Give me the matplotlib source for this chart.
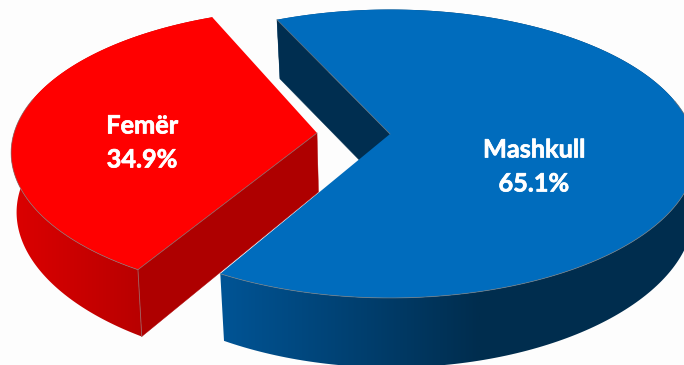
#!/usr/bin/env python3

import numpy as np
import matplotlib
matplotlib.use("Agg")
import matplotlib.pyplot as plt
import matplotlib.patheffects as pe
from matplotlib.colors import LinearSegmentedColormap
from matplotlib.patches import Polygon

labels = ["Mashkull", "Femër"]
shares = [65.1, 34.9]

# 3d look of the pie: a ground circle pushed through a small perspective
RX = 303.0
RY = 141.5
PERSP = 0.137
BOTTOM_RY = 145.0
BOTTOM_PERSP = 0.169
BOTTOM_SHRINK = 0.987
BOTTOM_DX = 1.5
DEPTH = 59.0
START = 245.2

centers = [(390.0, 134.0), (317.0, 133.0)]
skews = [0.0, 1.9]
top_colors = ["#006cbd", "#ff0000"]
side_colors = ["#002e50", "#ae0000"]
rim_left = ["#005495", "#dc0000"]
rim_right = ["#002d4e", "#b80000"]
rim_span = [(222.0, 480.0), (12.0, 143.0)]
label_x = [534, 142]
label_y = [(150, 184), (126, 160)]


def top_xy(center, ang):
    c, s = np.cos(ang), np.sin(ang)
    w = 1 - PERSP * s
    return center[0] + RX * c / w, center[1] + RY * s / w


def bottom_xy(center, ang):
    c, s = np.cos(ang), np.sin(ang)
    w = 1 - PERSP * s
    w2 = 1 - BOTTOM_PERSP * s
    return (center[0] + BOTTOM_DX + BOTTOM_SHRINK * RX * c / w,
            center[1] + DEPTH + BOTTOM_RY * s / w2)


fig = plt.figure(figsize=(6.84, 3.65), dpi=100, facecolor="#fdfdfd")
ax = fig.add_axes([0, 0, 1, 1])
ax.set_xlim(0, 684)
ax.set_ylim(365, 0)
ax.axis("off")

# slice angles, going clockwise on screen from the upper left cut
spans = np.radians(np.array(shares) / sum(shares) * 360)
start = np.radians(START)
angles = [(start, start + spans[0]), (start + spans[0], start + spans[0] + spans[1])]

ramp = np.linspace(0, 1, 256).reshape(1, -1)
heavier = [pe.withStroke(linewidth=0.5, foreground="white")]

# the red slice goes first, the blue one overlaps its lower part
for i in [1, 0]:
    a0 = angles[i][0] + np.radians(skews[i])
    a1 = angles[i][1] + np.radians(skews[i])
    center = centers[i]
    z = 2 + (1 - i) * 2
    t = np.linspace(a0, a1, 240)
    tx, ty = top_xy(center, t)
    bx, by = bottom_xy(center, t)

    # outer wall with a left to right shade
    wall = Polygon(np.c_[np.r_[tx, bx[::-1]], np.r_[ty, by[::-1]]], closed=True,
                   facecolor="none", edgecolor="none", zorder=z)
    ax.add_patch(wall)
    cmap = LinearSegmentedColormap.from_list("rim", [rim_left[i], rim_right[i]])
    im = ax.imshow(ramp, cmap=cmap, aspect="auto", zorder=z,
                   extent=[rim_span[i][0], rim_span[i][1], 365, 0], interpolation="bilinear")
    # outside the ramp the wall keeps the end colours
    left = ax.fill([-5, rim_span[i][0], rim_span[i][0], -5], [0, 0, 365, 365],
                   color=rim_left[i], lw=0, zorder=z)[0]
    right = ax.fill([rim_span[i][1], 690, 690, rim_span[i][1]], [0, 0, 365, 365],
                    color=rim_right[i], lw=0, zorder=z)[0]
    for art in (im, left, right):
        art.set_clip_path(wall)

    # flat cut wall: the one at the start of each slice is the visible one
    sx, sy = top_xy(center, a0)
    ex, ey = bottom_xy(center, a0)
    ax.fill([center[0], sx, ex, center[0] + BOTTOM_DX],
            [center[1], sy, ey, center[1] + DEPTH],
            facecolor=side_colors[i], edgecolor=side_colors[i], lw=0.3, zorder=z + 0.2)

    # top face
    ax.fill(np.r_[center[0], tx], np.r_[center[1], ty],
            facecolor=top_colors[i], edgecolor="none", zorder=z + 0.4)

    # thin grey seams along the edges turned to the viewer
    front = np.sin(t) > -0.25
    ax.plot(tx[front], ty[front], color="#7a7a7a", lw=0.6, alpha=0.75, zorder=z + 0.5)
    ax.plot([center[0], sx], [center[1], sy], color="#7a7a7a", lw=0.6, alpha=0.75, zorder=z + 0.5)
    if i == 1:
        ax.plot([sx, ex], [sy, ey], color="#a06060", lw=0.6, zorder=z + 0.5)

    ax.text(label_x[i], label_y[i][0], labels[i], color="white", fontsize=18.2,
            fontweight="bold", family="Lato", ha="center", va="center", zorder=9,
            path_effects=heavier)
    ax.text(label_x[i], label_y[i][1], "%.1f%%" % shares[i], color="white", fontsize=18.2,
            fontweight="bold", family="Lato", ha="center", va="center", zorder=9,
            path_effects=heavier)

ax.set_xlim(0, 684)
ax.set_ylim(365, 0)
fig.savefig("out.png", dpi=100, facecolor=fig.get_facecolor())
